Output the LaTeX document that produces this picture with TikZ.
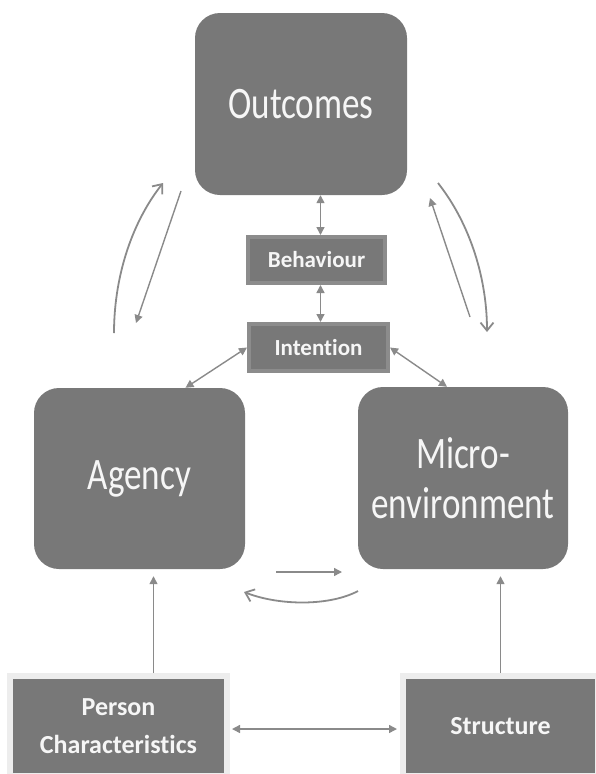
\documentclass[tikz,border=0pt]{standalone}
\usepackage{fontspec}
\usepackage{tikz}
\usetikzlibrary{arrows.meta}
\setmainfont[Ligatures=NoCommon]{Carlito}
\newfontfamily\narrowfont[FakeStretch=0.78,Ligatures=NoCommon]{Carlito}
\definecolor{boxgray}{HTML}{787878}
\definecolor{ringgray}{HTML}{8C8C8C}
\definecolor{framegray}{HTML}{EDEDED}
\definecolor{linegray}{HTML}{8A8A8A}
\definecolor{txtwhite}{HTML}{F6F6F6}

\begin{document}
\begin{tikzpicture}[x=1pt,y=-1pt]
        \tikzset{
        box/.style={rectangle, rounded corners=25pt, fill=boxgray, draw=none, inner sep=0pt,
        text=txtwhite, align=center, font=\narrowfont\fontsize{45}{50}\selectfont},
        bx/.style={rectangle, fill=boxgray, draw=ringgray, line width=4pt, inner sep=0pt,
        text=txtwhite, font=\bfseries\fontsize{23}{26}\selectfont},
        base/.style={rectangle, fill=boxgray, draw=framegray, line width=6pt, inner sep=0pt,
        text=txtwhite, align=center, font=\bfseries\fontsize{26}{38}\selectfont},
        c1/.style={{Triangle[length=8pt,width=8pt]}-{Triangle[length=8pt,width=8pt]}, linegray, line width=1.4pt},
        c2/.style={-{Triangle[length=8pt,width=8pt]}, linegray, line width=1.4pt},
        c3/.style={-{Straight Barb[length=8pt,width=13pt]}, linegray, line width=1.8pt}
        }
        \useasboundingbox (0,0) rectangle (595,774);

        \node[box, minimum width=212pt, minimum height=182pt] (out) at (301,104) {Outcomes};
        \node[box, minimum width=211pt, minimum height=181pt] (ag) at (139.5,478.5) {Agency};
        \node[box, minimum width=210pt, minimum height=182pt] (mic) at (463,478) {Micro-\\environment};
        \node[bx, minimum width=137pt, minimum height=46pt] (beh) at (316.5,260) {Behaviour};
        \node[bx, minimum width=139pt, minimum height=47pt] (int) at (318.5,347.5) {Intention};
        \node[base, minimum width=217pt, minimum height=100pt] (pc) at (118.5,726) {Person\\Characteristics};
        \node[base, minimum width=195pt, minimum height=100pt] (st) at (500.5,726) {Structure};

        % floating ends of the curved arrows
        \coordinate (la1) at (114,333);
        \coordinate (la2) at (163,183);
        \coordinate (lb1) at (181,191);
        \coordinate (lb2) at (136,323);
        \coordinate (ra1) at (470,317);
        \coordinate (ra2) at (430,198);
        \coordinate (rb1) at (438,183);
        \coordinate (rb2) at (487,332);
        \coordinate (ba1) at (276,572);
        \coordinate (ba2) at (342,572);
        \coordinate (bb1) at (358,591);
        \coordinate (bb2) at (244,592);

        \draw[c1] ([xshift=4pt]beh.north |- out.south) -- ([xshift=4pt]beh.north);
        \draw[c1] ([xshift=4pt]beh.south) -- ([xshift=4pt]beh.south |- int.north);
        \draw[c1] (int.west) -- ([xshift=46pt]ag.north);
        \draw[c1] (int.east) -- ([xshift=-16pt]mic.north);
        \draw[c1, shorten <=2pt, shorten >=3pt] ([yshift=-3pt]pc.east) -- ([yshift=-3pt]st.west);
        \draw[c2, shorten >=7pt] ([xshift=35pt]pc.north) -- ([xshift=35pt]pc.north |- ag.south);
        \draw[c2, shorten >=7pt] (st.north) -- (st.north |- mic.south);

        \draw[c3] (la1) .. controls (114,280) and (130,225) .. (la2);
        \draw[c2] (lb1) -- (lb2);
        \draw[c2] (ra1) -- (ra2);
        \draw[c3] (rb1) .. controls (471,225) and (487,280) .. (rb2);
        \draw[c2] (ba1) -- (ba2);
        \draw[c3] (bb1) .. controls (330,606) and (280,606) .. (bb2);
\end{tikzpicture}
\end{document}
